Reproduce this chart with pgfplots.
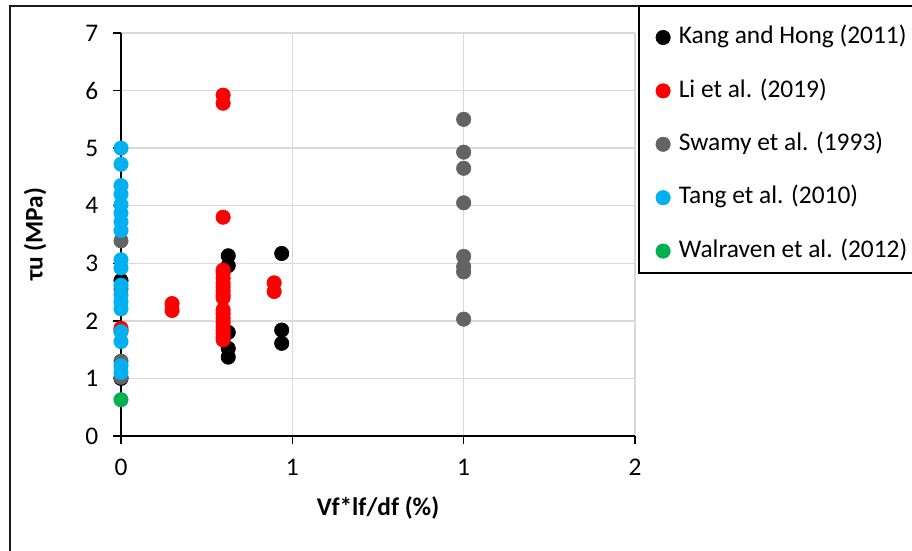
\documentclass[border=0pt]{standalone}
\usepackage{fontspec}
\setmainfont{Carlito}
\usepackage{pgfplots}
\pgfplotsset{compat=1.18}
\definecolor{cKang}{HTML}{000000}
\definecolor{cLi}{HTML}{FF0000}
\definecolor{cSwamy}{HTML}{636363}
\definecolor{cTang}{HTML}{00B0F0}
\definecolor{cWal}{HTML}{00B050}
\definecolor{gridc}{HTML}{D9D9D9}
\pgfplotsset{
  mydot/.style={only marks, mark=*, mark size=3.6pt, color=#1,
    mark options={fill=#1, draw=#1, line width=0.3pt},
    legend image code/.code={\draw[##1] plot coordinates {(0pt,0pt)};}}
}
\begin{document}
\fontsize{12.7}{15}\selectfont
\begin{tikzpicture}[x=0.5pt,y=0.5pt]
\path[use as bounding box] (0,0) rectangle (912,551);
\clip (0,0) rectangle (912,551);
\begin{axis}[
  at={(60.5pt,57.5pt)}, anchor=south west,
  scale only axis, width=257pt, height=201.5pt,
  xmin=0, xmax=1.5, ymin=0, ymax=7,
  xtick={0,0.5,1,1.5}, xticklabels={0,1,1,2},
  ytick={0,1,2,3,4,5,6,7},
  axis lines*=left,
  axis line style={black, line width=0.75pt},
  tick style={black, line width=0.75pt},
  major tick length=4pt, tick align=outside,
  grid=major, major grid style={gridc, line width=0.75pt},
  /pgf/number format/assume math mode=true,
  xticklabel style={yshift=-3pt},
  yticklabel style={xshift=-3pt},
  xlabel={\textbf{Vf*lf/df (\%)}},
  ylabel={\textbf{τu (MPa)}},
  every axis x label/.style={at={(axis description cs:0.5,-0.179)}, anchor=center},
  every axis y label/.style={at={(axis description cs:-0.167,0.5)}, anchor=center, rotate=90},
  legend style={draw=none, fill=none, at={(1.0399,1.0206)}, anchor=north west,
    inner sep=0pt, row sep=14.3pt, column sep=4.25pt,
    nodes={inner sep=0pt, text height=9.3pt, text depth=3.1pt}},
  legend cell align=left,
]
\addplot[mydot=cKang] coordinates {
 (0,2.70) (0,1.00) (0.313,3.13) (0.313,2.96) (0.313,1.80) (0.313,1.52) (0.313,1.37)
 (0.469,3.17) (0.469,1.84) (0.469,1.61)};
\addlegendentry{Kang and Hong (2011)}
\addplot[mydot=cLi] coordinates {
 (0,1.87) (0,1.83) (0.149,2.30) (0.149,2.18)
 (0.298,5.92) (0.298,5.78) (0.298,3.80)
 (0.298,2.88) (0.298,2.83) (0.298,2.74) (0.298,2.65) (0.298,2.59) (0.298,2.52) (0.298,2.45) (0.298,2.40)
 (0.298,2.19) (0.298,2.12) (0.298,2.04) (0.298,1.97) (0.298,1.90) (0.298,1.83) (0.298,1.78) (0.298,1.72) (0.298,1.67)
 (0.447,2.66) (0.447,2.51)};
\addlegendentry{Li et al. (2019)}
\addplot[mydot=cSwamy] coordinates {
 (0,3.39) (0,2.55) (0,1.30) (0,1.02)
 (1,5.50) (1,4.93) (1,4.65) (1,4.05) (1,3.12) (1,2.94) (1,2.85) (1,2.03)};
\addlegendentry{Swamy et al. (1993)}
\addplot[mydot=cTang] coordinates {
 (0,5.00) (0,4.72) (0,4.35) (0,4.20) (0,4.02) (0,3.87) (0,3.72) (0,3.57)
 (0,3.06) (0,2.92) (0,2.62) (0,2.45) (0,2.33) (0,2.21) (0,1.81) (0,1.64) (0,1.22) (0,1.10)};
\addlegendentry{Tang et al. (2010)}
\addplot[mydot=cWal] coordinates {(0,0.63)};
\addlegendentry{Walraven et al. (2012)}
\end{axis}
\draw[line width=0.9pt, black!90] (10,545) rectangle (940,-20);
\draw[line width=0.9pt, black] (639,545) rectangle (940,278);
\end{tikzpicture}
\end{document}
